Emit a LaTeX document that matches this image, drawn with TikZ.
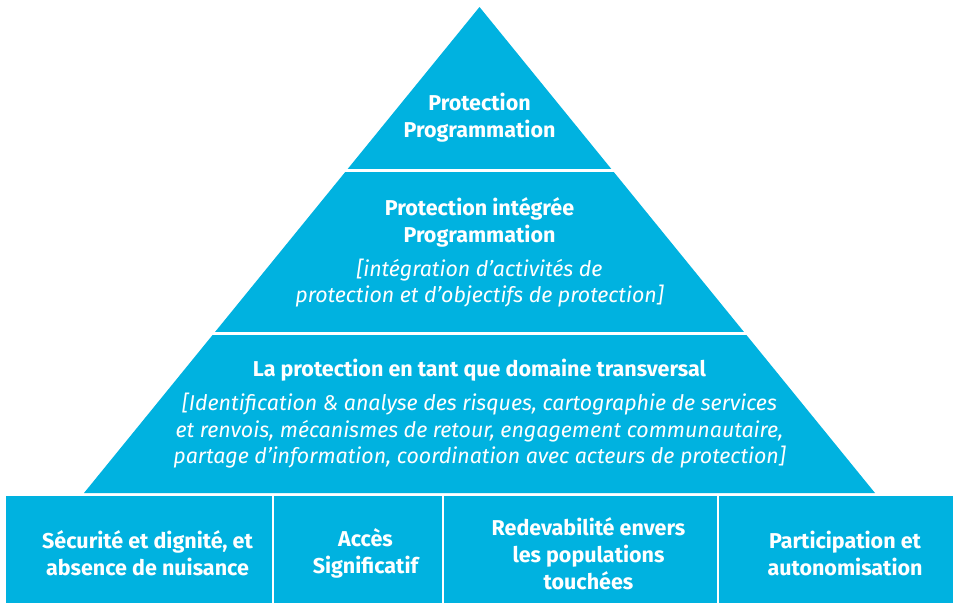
\documentclass[tikz,border=0pt]{standalone}
\usepackage{fontspec}
\setmainfont{Fira Sans}
\definecolor{pyramidblue}{RGB}{0,178,224}

\begin{document}
\begin{tikzpicture}[x=1pt, y=-1pt,
    layer/.style ={fill=pyramidblue},
    heading/.style ={text=white, align=center, font=\bfseries\fontsize{21.5}{27}\selectfont},
    detail/.style ={text=white, align=center, font=\itshape\fontsize{21.4}{26.5}\selectfont}]
   \clip (0,0) rectangle (956,603);
   \fill[white] (0,0) rectangle (956,603);

   % pyramid
   \fill[layer] (479.5,7) -- (875,493) -- (84,493) -- cycle;
   \draw[white, line width=3pt] (0,170.5) -- (956,170.5);
   \draw[white, line width=3pt] (0,333.5) -- (956,333.5);

   \node[heading] (top)   at (479.5,118) {Protection\\Programmation};
   \node[heading] (mid)   at (479.5,222.5) {Protection intégrée\\Programmation};
   \node[detail]  (midnote) at (479.5,283) {[intégration d’activités de\\protection et d’objectifs de protection]};
   \node[heading] (low)   at (479.5,370) {La protection en tant que domaine transversal};
   \node[detail]  (lownote) at (479.5,431) {[Identification \& analyse des risques, cartographie de services\\et renvois, mécanismes de retour, engagement communautaire,\\partage d’information, coordination avec acteurs de protection]};

   % pillars
   \fill[layer] (6,496) rectangle (272,603);
   \fill[layer] (274,496) rectangle (442,603);
   \fill[layer] (444,496) rectangle (717,603);
   \fill[layer] (719,496) rectangle (953,603);

   \node[heading] (safety) at (147.5,553.5) {Sécurité et dignité, et\\absence de nuisance};
   \node[heading] (access) at (365.5,553.5) {Accès\\Significatif};
   \node[heading] (account) at (588.5,553.5) {Redevabilité envers\\les populations\\touchées};
   \node[heading] (participation) at (845,553.5) {Participation et\\autonomisation};

 \end{tikzpicture}
\end{document}
